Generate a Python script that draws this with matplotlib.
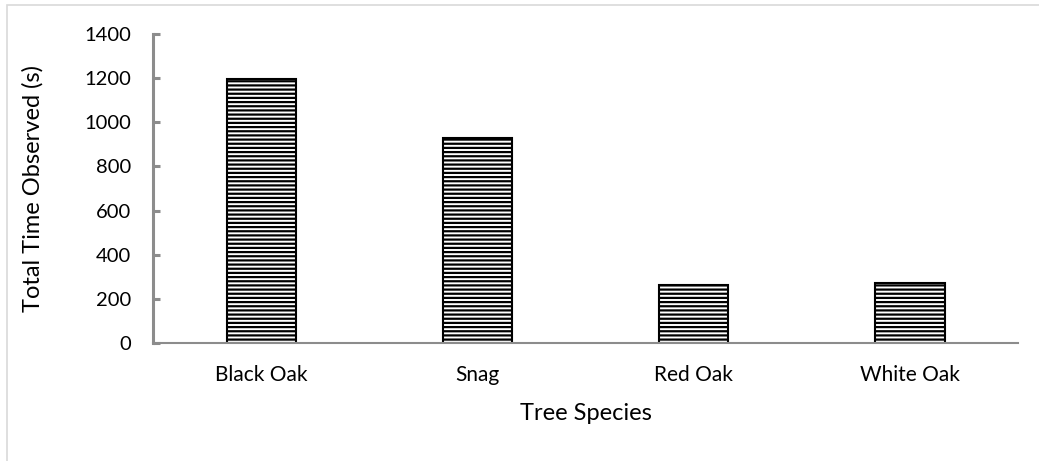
import matplotlib
matplotlib.use("Agg")
import matplotlib.pyplot as plt
from matplotlib.patches import Rectangle

species = ["Black Oak", "Snag", "Red Oak", "White Oak"]
total_time = [1195, 930, 262, 270]
y_ticks = [0, 200, 400, 600, 800, 1000, 1200, 1400]

plt.rcParams["font.family"] = ["Lato", "DejaVu Sans"]
plt.rcParams["hatch.linewidth"] = 1.6
plt.rcParams["hatch.color"] = "black"

fig = plt.figure(figsize=(10.39, 4.61), dpi=100)
ax = fig.add_axes([0.1473, 0.2560, 0.8327, 0.6702])

x = range(len(species))
ax.bar(x, total_time, width=0.32, facecolor="white", edgecolor="black",
       linewidth=1.5, hatch="----", zorder=2)

ax.set_xlim(-0.5, len(species) - 0.5)
ax.set_ylim(0, 1400)
ax.set_yticks(y_ticks)
ax.set_xticks(list(x))
ax.set_xticklabels(species)

axis_grey = "#8c8c8c"
for side in ("top", "right"):
    ax.spines[side].set_visible(False)
ax.spines["left"].set_color(axis_grey)
ax.spines["left"].set_linewidth(2.2)
ax.spines["bottom"].set_color(axis_grey)
ax.spines["bottom"].set_linewidth(1.5)

ax.tick_params(axis="y", direction="in", length=5, width=2.2, color=axis_grey,
               labelsize=14.5, pad=16)
ax.tick_params(axis="x", length=0, labelsize=15, pad=16)

ax.set_ylabel("Total Time Observed (s)", fontsize=17, labelpad=29)
ax.set_xlabel("Tree Species", fontsize=17, labelpad=13)

# light frame around the chart area
fig.patches.append(Rectangle((7 / 1039, -0.01), 1.02, 1 - 5 / 461 + 0.01,
                             transform=fig.transFigure, fill=False,
                             edgecolor="#d9d9d9", linewidth=1.2))

fig.savefig("out.png", dpi=100)
